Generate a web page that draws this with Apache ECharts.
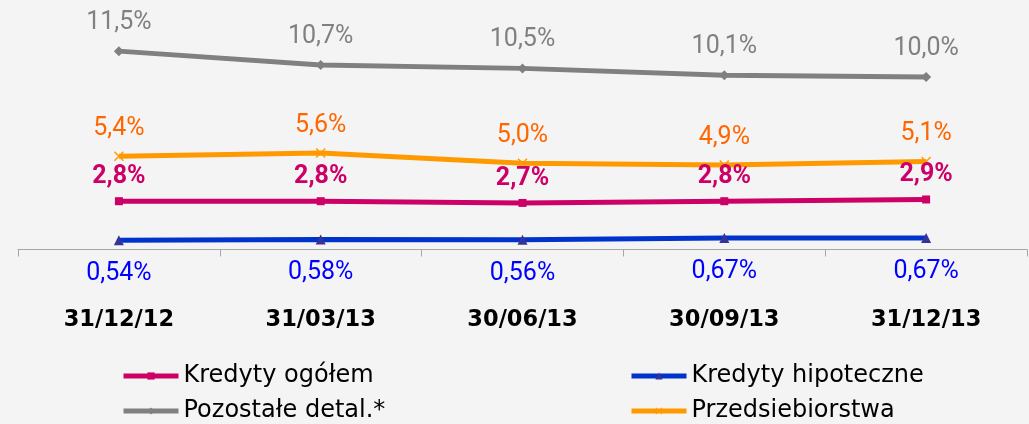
<!DOCTYPE html>
<html>
<head>
<meta charset="utf-8">
<script src="https://cdn.jsdelivr.net/npm/echarts@6/dist/echarts.min.js"></script>
<style>
  html, body { margin: 0; padding: 0; background: #f4f4f4; }
  #chart { width: 1029px; height: 424px; }
</style>
</head>
<body>
<div id="chart"></div>
<script>
// dane z wykresu
var categories = ["31/12/12", "31/03/13", "30/06/13", "30/09/13", "31/12/13"];
var kredytyOgolem = [2.8, 2.8, 2.7, 2.8, 2.9];
var kredytyHipoteczne = [0.54, 0.58, 0.56, 0.67, 0.67];
var pozostaleDetal = [11.5, 10.7, 10.5, 10.1, 10.0];
var przedsiebiorstwa = [5.4, 5.6, 5.0, 4.9, 5.1];

var VAL_FONT = "Roboto";
var TXT_FONT = "DejaVu Sans";

function pct(digits) {
  return function (p) {
    return p.value.toFixed(digits).replace(".", ",") + "%";
  };
}

// znaczek "x" dla Przedsiebiorstwa
var xSymbol = "path://M0,1L1,0L5,4L9,0L10,1L6,5L10,9L9,10L5,6L1,10L0,9L4,5Z";

// jedna legenda na pozycje (2 kolumny x 2 wiersze)
function legendItem(name, left, top) {
  return {
    left: left, top: top, padding: 0,
    itemWidth: 55, itemHeight: 9,
    lineStyle: { width: 5 },
    textStyle: { fontFamily: TXT_FONT, fontSize: 24, color: "#000" },
    data: [name]
  };
}

var myChart = echarts.init(document.getElementById("chart"));

myChart.setOption({
  backgroundColor: "#f4f4f4",
  animation: false,
  grid: { left: 18, right: 2, top: 8, bottom: 174.5, containLabel: false },
  legend: [
    legendItem("Kredyty ogółem", 121, 364),
    legendItem("Kredyty hipoteczne", 629, 364),
    legendItem("Pozostałe detal.*", 121, 399),
    legendItem("Przedsiebiorstwa", 629, 399)
  ],
  xAxis: {
    type: "category",
    data: categories,
    boundaryGap: true,
    axisLine: { lineStyle: { color: "#a6a6a6", width: 1 } },
    axisTick: { show: true, length: 7, lineStyle: { color: "#a6a6a6" } },
    axisLabel: {
      margin: 59,
      fontFamily: TXT_FONT,
      fontSize: 22.5,
      fontWeight: "bold",
      color: "#000"
    }
  },
  yAxis: {
    type: "value",
    min: 0,
    max: 14,
    show: false,
    splitLine: { show: false }
  },
  series: [
    {
      name: "Pozostałe detal.*",
      type: "line",
      data: pozostaleDetal,
      color: "#808080",
      symbol: "diamond",
      symbolSize: 10,
      lineStyle: { width: 5, color: "#808080" },
      label: {
        show: true, position: "top", distance: 11,
        fontFamily: VAL_FONT, fontSize: 25, color: "#808080",
        formatter: pct(1)
      }
    },
    {
      name: "Przedsiebiorstwa",
      type: "line",
      data: przedsiebiorstwa,
      color: "#ff9900",
      symbol: xSymbol,
      symbolSize: 10,
      lineStyle: { width: 5, color: "#ff9900" },
      label: {
        show: true, position: "top", distance: 10,
        fontFamily: VAL_FONT, fontSize: 25, color: "#ff6600",
        formatter: pct(1)
      }
    },
    {
      name: "Kredyty ogółem",
      type: "line",
      data: kredytyOgolem,
      color: "#cc0066",
      symbol: "rect",
      symbolSize: 8,
      lineStyle: { width: 5, color: "#cc0066" },
      label: {
        show: true, position: "top", distance: 8,
        fontFamily: VAL_FONT, fontSize: 25, fontWeight: "bold", color: "#cc0066",
        formatter: pct(1)
      }
    },
    {
      name: "Kredyty hipoteczne",
      type: "line",
      data: kredytyHipoteczne,
      color: "#0033cc",
      symbol: "triangle",
      symbolSize: 10,
      itemStyle: { color: "#333399" },
      lineStyle: { width: 5, color: "#0033cc" },
      label: {
        show: true, position: "bottom", distance: 16,
        fontFamily: VAL_FONT, fontSize: 25, color: "#0000ff",
        formatter: pct(2)
      }
    }
  ]
});
</script>
</body>
</html>
